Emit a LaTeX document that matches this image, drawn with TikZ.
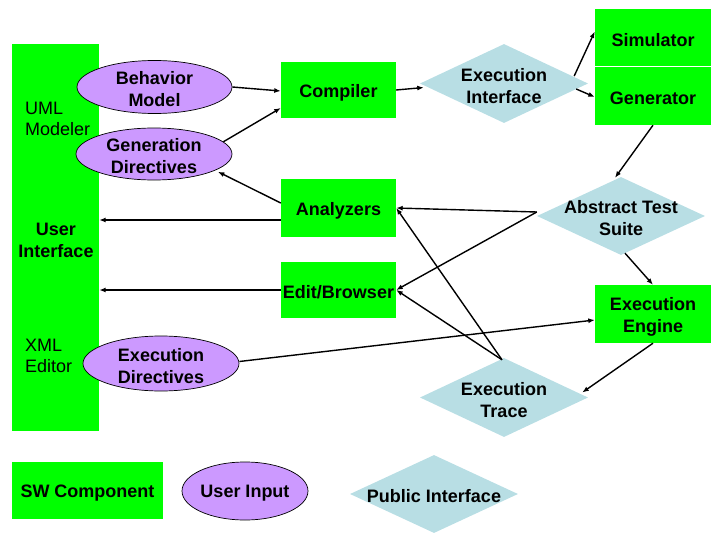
\documentclass[tikz,border=0pt]{standalone}
\usepackage{fontspec}
\setmainfont{Liberation Sans}
\usetikzlibrary{shapes.geometric,arrows.meta}
\definecolor{swgreen}{RGB}{0,255,0}
\definecolor{inputpurple}{RGB}{204,153,255}
\definecolor{ifblue}{RGB}{184,222,228}
\begin{document}
\begin{tikzpicture}[x=1pt,y=-1pt,
  swbox/.style={rectangle,fill=swgreen,inner sep=0pt},
  userin/.style={ellipse,fill=inputpurple,draw=black,line width=0.7pt,inner sep=0pt},
  pubif/.style={diamond,fill=ifblue,inner sep=0pt},
  lbl/.style={align=center,font=\fontsize{18}{22}\selectfont\bfseries,inner sep=0pt,yshift=-2.5pt},
  plain/.style={align=left,font=\fontsize{18}{21}\selectfont,inner sep=0pt},
  arr/.style={line width=1.4pt,-{Latex[length=6.5pt,width=5pt]}}]
\useasboundingbox (0,0) rectangle (715,535);

% user interface column
\node[swbox,minimum width=87pt,minimum height=387pt] (ui) at (55.5,237.5) {};
\node[plain,anchor=west] (uml) at (25,119) {UML\\Modeler};
\node[lbl] (uitxt) at (56,237.5) {User\\Interface};
\node[plain,anchor=west] (xml) at (25,356) {XML\\Editor};

% user inputs
\node[userin,minimum width=155pt,minimum height=53pt] (bm) at (154.5,87) {};
\node[lbl] (bmtxt) at (bm) {Behavior\\Model};
\node[userin,minimum width=156pt,minimum height=52pt] (gd) at (154,154) {};
\node[lbl] (gdtxt) at (gd) {Generation\\Directives};
\node[userin,minimum width=156pt,minimum height=55pt] (ed) at (161,363.5) {};
\node[lbl] (edtxt) at (ed) {Execution\\Directives};

% software components
\node[swbox,minimum width=115pt,minimum height=56pt] (comp) at (338.5,90) {};
\node[lbl] (comptxt) at (comp) {Compiler};
\node[swbox,minimum width=115pt,minimum height=58pt] (ana) at (338.5,208) {};
\node[lbl] (anatxt) at (ana) {Analyzers};
\node[swbox,minimum width=115pt,minimum height=56pt] (edb) at (338.5,290) {};
\node[lbl] (edbtxt) at (edb) {Edit/Browser};
\node[swbox,minimum width=116pt,minimum height=57pt] (sim) at (653,37.5) {};
\node[lbl] (simtxt) at (sim) {Simulator};
\node[swbox,minimum width=116pt,minimum height=58pt] (gen) at (653,96) {};
\node[lbl] (gentxt) at (gen) {Generator};
\node[swbox,minimum width=116pt,minimum height=58pt] (ee) at (653,314) {};
\node[lbl] (eetxt) at (ee) {Execution\\Engine};

% public interfaces
\node[pubif,minimum width=168pt,minimum height=79pt] (ei) at (504,83.5) {};
\node[lbl] (eitxt) at (ei) {Execution\\Interface};
\node[pubif,minimum width=168pt,minimum height=78pt] (ats) at (621,216) {};
\node[lbl] (atstxt) at (ats) {Abstract Test\\Suite};
\node[pubif,minimum width=168pt,minimum height=79pt] (et) at (504,397.5) {};
\node[lbl] (ettxt) at (et) {Execution\\Trace};

% legend
\node[swbox,minimum width=151pt,minimum height=57pt] (lgsw) at (87.5,490.5) {};
\node[lbl] (lgswtxt) at (lgsw) {SW Component};
\node[userin,minimum width=126pt,minimum height=58pt] (lgui) at (245,491) {};
\node[lbl] (lguitxt) at (lgui) {User Input};
\node[pubif,minimum width=168pt,minimum height=78pt] (lgpi) at (434,494) {};
\node[lbl] (lgpitxt) at (lgpi) {Public Interface};

% connectors
\draw[arr] (bm.east) -- ([yshift=-1pt]comp.west);
\draw[arr] (gd.10) -- ([yshift=-18pt]comp.west);
\draw[arr] (comp.east) -- ([xshift=4pt,yshift=-4pt]ei.west);
\draw[arr] ([xshift=-14pt,yshift=7.5pt]ei.east) -- ([yshift=6pt]sim.west);
\draw[arr] ([xshift=-12pt,yshift=-5.5pt]ei.east) -- ([yshift=-1pt]gen.west);
\draw[arr] (gen.south) -- ([xshift=-6pt,yshift=-1pt]ats.north);
\draw[arr] ([xshift=4pt,yshift=2pt]ats.south) -- (ee.north);
\draw[arr] (ee.south) -- ([xshift=-6pt,yshift=5pt]et.east);
\draw[arr,shorten >=3pt] ([yshift=5pt]ana.west) -- (gd.-15);
\draw[arr] ([yshift=-12pt]ana.west) -- ([yshift=-12pt]ana.west -| ui.east);
\draw[arr] (edb.west) -- (edb.west -| ui.east);
\draw[arr] ([yshift=2pt]ed.east) -- ([yshift=-6pt]ee.west);
\draw[arr] ([yshift=4pt]ats.west) -- (ana.east);
\draw[arr] ([yshift=4pt]ats.west) -- (edb.east);
\draw[arr] ([xshift=-2pt,yshift=-2pt]et.north) -- (ana.east);
\draw[arr] ([xshift=-2pt,yshift=-2pt]et.north) -- (edb.east);
\end{tikzpicture}
\end{document}
